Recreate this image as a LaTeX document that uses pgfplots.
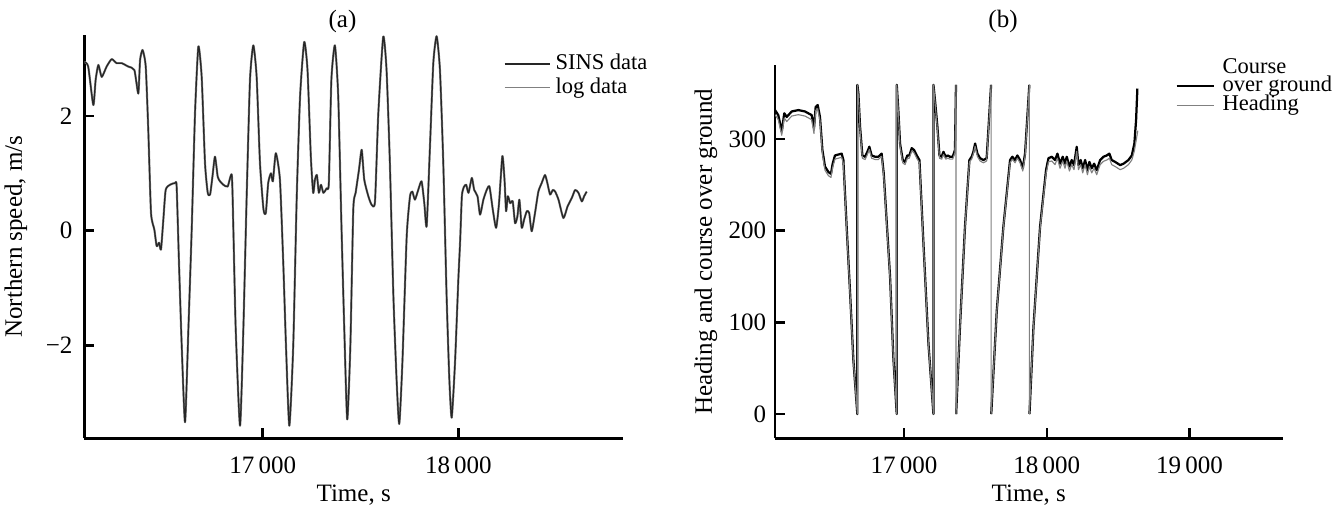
\documentclass[border=0pt]{standalone}
\usepackage{fontspec}
\setmainfont{Liberation Serif}
\usepackage{pgfplots}
\usepackage{pgfplotstable}
\pgfplotsset{compat=1.18}

% (a) northern speed, m/s
\pgfplotstableread{
t v
16088 2.94
16108 2.86
16134 2.19
16146 2.63
16160 2.89
16177 2.68
16202 2.86
16228 2.99
16253 2.92
16279 2.92
16313 2.86
16344 2.80
16364 2.39
16373 2.97
16386 3.15
16402 2.86
16415 1.76
16429 0.31
16446 0.02
16458 -0.27
16470 -0.21
16480 -0.33
16492 0.19
16504 0.71
16526 0.80
16552 0.83
16560 0.77
16572 -0.56
16586 -2.01
16603 -3.34
16620 -1.72
16637 0.02
16654 2.05
16671 3.21
16688 2.68
16705 1.18
16719 0.66
16731 0.63
16743 0.94
16756 1.29
16770 0.94
16782 0.86
16799 0.80
16821 0.77
16842 0.97
16850 0.02
16862 -1.72
16884 -3.40
16901 -1.72
16918 0.60
16935 2.63
16952 3.23
16969 2.68
16986 1.18
17004 0.37
17016 0.31
17028 0.83
17042 1.00
17052 0.86
17067 1.35
17088 0.89
17105 -0.56
17119 -2.01
17136 -3.40
17156 -2.01
17174 0.60
17191 2.34
17212 3.29
17229 2.80
17246 1.29
17258 0.66
17267 0.89
17277 0.97
17287 0.66
17298 0.80
17310 0.66
17327 0.74
17338 0.83
17351 2.63
17369 3.23
17386 2.34
17403 0.02
17417 -1.72
17432 -3.29
17448 -2.01
17463 0.37
17475 0.66
17492 1.06
17506 1.41
17519 0.89
17540 0.60
17557 0.45
17574 0.51
17591 2.05
17616 3.38
17633 2.80
17650 1.18
17668 -1.14
17685 -2.65
17698 -3.37
17714 -2.30
17736 -0.10
17753 0.60
17765 0.68
17778 0.54
17795 0.71
17812 0.86
17826 0.48
17838 0.08
17855 1.47
17872 2.92
17889 3.39
17906 2.80
17923 1.18
17940 -1.14
17954 -2.59
17966 -3.26
17983 -2.30
18000 -0.85
18009 -0.20
18018 0.60
18028 0.76
18040 0.80
18052 0.66
18069 0.92
18081 0.71
18098 0.60
18111 0.28
18128 0.54
18145 0.71
18159 0.77
18176 0.37
18193 0.05
18208 0.48
18225 1.30
18236 0.89
18244 0.34
18253 0.60
18265 0.48
18278 0.51
18290 0.13
18302 0.25
18312 0.54
18324 0.05
18336 0.19
18350 0.34
18362 0.31
18375 -0.01
18392 0.31
18409 0.68
18426 0.83
18443 0.97
18455 0.83
18469 0.63
18483 0.71
18495 0.68
18512 0.54
18537 0.22
18558 0.42
18580 0.57
18597 0.71
18614 0.66
18631 0.51
18643 0.60
18656 0.68
}\speed

% (b) course over ground, deg (nan = no line across the wrap)
\pgfplotstableread{
t v
16096 331.5
16119 326
16143 308
16161 328
16178 324
16213 330
16260 331.5
16306 330
16353 326
16369 311.5
16381 335
16395 337
16411 324
16428 288
16446 270
16470 264
16488 262
16500 273
16516 282
16563 284
16575 277
16598 204
16622 132
16645 59
16673 0
16673 359
16680 350
16692 313
16708 282
16727 280.6
16743 286
16757 291.5
16773 282
16797 280.6
16820 280.6
16843 284
16858 262
16902 150
16925 62
16949 0
16949 359
16960 331.5
16972 295
16991 277
17007 275
17023 282
17037 282
17054 290
17070 288
17089 282
17108 277
17136 186
17171 77
17206 0
17206 359
17217 342
17234 313
17248 282
17264 280.6
17276 286
17292 280.6
17306 282
17322 280.6
17341 280.6
17357 288
17364 359
17364 nan
17365 0
17392 95
17427 204
17458 277
17474 280.6
17486 286
17498 295
17514 284
17533 279
17556 277
17579 279
17610 359
17610 nan
17611 0
17650 113
17696 204
17743 277
17759 280.6
17778 277
17794 282
17813 277
17832 268
17848 284
17878 359
17878 nan
17879 0
17907 95
17953 204
17995 266
18012 279
18035 280.6
18058 277
18075 284
18093 273
18112 280.6
18128 273
18140 280.6
18159 270
18175 277
18191 271.5
18210 291.5
18222 271.5
18238 277
18252 268
18269 277
18285 266
18299 275
18315 268
18332 273
18350 266
18374 277
18397 280.6
18420 282
18439 284
18455 277
18479 275
18514 271.5
18538 273
18572 277
18596 282
18614 295
18626 320.6
18635 355
}\course

% (b) heading, deg
\pgfplotstableread{
t v
16096 326.5
16119 321
16143 304
16161 323
16178 319
16213 325
16260 326.5
16306 325
16353 321
16369 306
16381 331
16395 333
16411 320
16428 284
16446 266
16470 260
16488 258
16500 269
16516 278
16563 280
16575 273
16598 202
16622 130
16645 58
16673 0
16673 359
16680 347
16692 310
16708 279
16727 277.6
16743 283
16757 288.5
16773 279
16797 277.6
16820 277.6
16843 281
16858 259
16902 148
16925 61
16949 0
16949 359
16960 329
16972 292
16991 274
17007 272
17023 279
17037 279
17054 287
17070 285
17089 279
17108 274
17136 184
17171 76
17206 0
17206 359
17217 340
17234 310
17248 279
17264 278
17276 283
17292 278
17306 279
17322 278
17341 278
17357 285
17364 359
17364 0
17392 95
17427 203
17458 275
17474 278
17486 284
17498 292
17514 281
17533 276
17556 274
17579 276
17610 359
17610 0
17650 112
17696 203
17743 274
17759 278
17778 274
17794 279
17813 274
17832 265
17848 281
17878 359
17878 0
17907 94
17953 202
17995 262
18012 275
18035 276
18058 272
18075 279
18093 268
18112 276
18128 268
18140 276
18159 265
18175 272
18191 266.5
18210 286.5
18222 266.5
18238 272
18252 263
18269 272
18285 261
18299 270
18315 263
18332 268
18350 261
18374 272
18397 275.6
18420 277
18439 279
18455 272
18479 270
18514 266.5
18538 268
18572 272
18596 277
18614 287
18626 298
18638 309
}\heading

\pgfplotsset{
  panel/.style={
    scale only axis,
    anchor=south west,
    axis lines*=left,
    axis line style={line width=1pt},
    tick align=inside,
    major tick length=4pt,
    tick style={line width=1pt,black},
    ticklabel style={font=\fontsize{10}{12}\selectfont},
    label style={font=\fontsize{10}{12}\selectfont},
    xticklabel style={yshift=-3.9pt},
    scaled x ticks=false,
    scaled y ticks=false,
    unbounded coords=jump,
    legend cell align=left,
    every axis plot/.append style={line join=round},
  },
}

\begin{document}
\begin{tikzpicture}[x=1pt,y=1pt]
\useasboundingbox (0,0) rectangle (534,-204);

\begin{axis}[panel,
  at={(33.72pt,-175.32pt)},
  width=215.5pt, height=161.3pt,
  xmin=16088, xmax=18842, ymin=-3.62, ymax=3.41,
  xtick={17000,18000}, xticklabels={17\,000,18\,000},
  ytick={-2,0,2}, yticklabels={−2,0,2},
  yticklabel style={xshift=-1.2pt},
  xlabel={Time, s},
  ylabel={Northern speed, m/s},
  xlabel style={at={(axis description cs:0.5,-0.1413)},anchor=center},
  ylabel style={at={(axis description cs:-0.1268,0.5)},anchor=center},
  legend style={draw=none, fill=none, inner sep=0pt, row sep=1.1pt,
    at={(0.7772,0.957)}, anchor=north west,
    font=\fontsize{9}{10}\selectfont,
    nodes={inner xsep=2pt, inner ysep=0pt, text height=6.5pt, text depth=2pt}},
  legend image code/.code={\draw[#1] (0pt,0pt) -- (18pt,0pt);},
]
\addlegendimage{black!85, line width=0.8pt}
\addlegendentry{SINS data}
\addlegendimage{black!50, line width=0.7pt}
\addlegendentry{log data}
\addplot[forget plot, black!50, line width=0.85pt, smooth, tension=0.35] table[x=t,y=v]{\speed};
\addplot[forget plot, black!85, line width=0.5pt, smooth, tension=0.35] table[x=t,y=v]{\speed};
\end{axis}

\begin{axis}[panel,
  at={(310pt,-175.32pt)},
  width=203pt, height=149.3pt,
  xmin=16096, xmax=19652, ymin=-26.5, ymax=380.6,
  xtick={17000,18000,19000}, xticklabels={17\,000,18\,000,19\,000},
  ytick={0,100,200,300}, yticklabels={0,100,200,300},
  xlabel={Time, s},
  ylabel={Heading and course over ground},
  xlabel style={at={(axis description cs:0.5,-0.1527)},anchor=center},
  ylabel style={at={(axis description cs:-0.136,0.5)},anchor=center},
  legend style={draw=none, fill=none, inner sep=0pt, row sep=-1pt,
    at={(0.788,1.023)}, anchor=north west,
    font=\fontsize{9}{10}\selectfont,
    nodes={inner xsep=3.2pt, inner ysep=0pt, text height=6.5pt, text depth=2pt}},
  legend image code/.code={\draw[#1] (0pt,0pt) -- (14.8pt,0pt);},
]
\addlegendimage{empty legend}
\addlegendentry{Course}
\addplot[black, line width=0.9pt] table[x=t,y=v]{\course};
\addlegendentry{over ground}
\addplot[black!50, line width=0.45pt] table[x=t,y=v]{\heading};
\addlegendentry{Heading}
\end{axis}

\node[font=\fontsize{10}{12}\selectfont] at (137,-8.7) {(a)};
\node[font=\fontsize{10}{12}\selectfont] at (401.2,-8.7) {(b)};
\end{tikzpicture}
\end{document}
